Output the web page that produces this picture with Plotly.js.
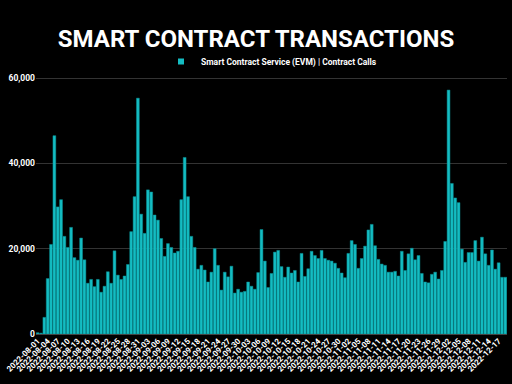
<!DOCTYPE html>
<html>
<head>
<meta charset="utf-8">
<script src="https://cdn.plot.ly/plotly-3.0.1.min.js"></script>
<style>
html,body{margin:0;padding:0;background:#000;}
#chart{width:512px;height:384px;}
</style>
</head>
<body>
<div id="chart"></div>
<script>
// Dates: daily from 2022-08-01 (141 days, to 2022-12-19)
const startDate = '2022-08-01';
const dayCount = 141;
const seriesName = 'Smart Contract Service (EVM) | Contract Calls';
const contractCalls = [
  300, 200,
  3900, 13000, 21000, 46500, 29800, 31500, 22900, 20300, 25000, 17900, 17300, 22500, 17400, 11900, 12800, 11100, 12800, 9800, 11200, 14600, 11900, 19500,
  13800, 12800, 13600, 16300, 24000, 32200, 55300, 28100, 23600, 33800, 33300, 27900, 26700, 22400, 18200, 21200, 20300, 19000, 19400, 31500, 41400, 32200, 22900,
  20300, 15200, 16100, 15000, 12200, 14500, 20000, 16100, 10300, 14500, 13400, 15900, 9600, 10500, 9800, 10000, 12200, 11200, 10500, 14400, 24500, 17100, 10900,
  14200, 19200, 19600, 15800, 13300, 15700, 14300, 14900, 12200, 18900, 13500, 15300, 19400, 18400, 17700, 19600, 17700, 17300, 17100, 16600, 15400, 14300, 13200,
  18900, 21900, 21000, 15400, 17700, 20600, 24400, 25700, 20700, 17500, 16400, 16100, 14500, 14500, 14700, 13600, 19400, 14900, 18800, 20100, 17400, 18400, 14200,
  12200, 12000, 14000, 14500, 12900, 14900, 21700, 57200, 35300, 31900, 30800, 19900, 16800, 19100, 19100, 21900, 17100, 22700, 18800, 16100, 19700, 15200, 16700, 13300, 13300
];
const yTicks = [0, 20000, 40000, 60000];
const yTickLabels = ['0', '20,000', '40,000', '60,000'];

const dates = [];
const d0 = new Date(startDate + 'T00:00:00Z');
for (let i = 0; i < dayCount; i++) {
  const d = new Date(d0.getTime() + i * 86400000);
  dates.push(d.toISOString().slice(0, 10));
}

const barColor = '#14bcc2';

const trace = {
  type: 'bar',
  x: dates,
  y: contractCalls,
  name: seriesName,
  marker: {color: barColor, line: {color: '#0b8e93', width: 0.5}},
  showlegend: false
};
// legend entry only (small square symbol like the reference)
const legendTrace = {
  type: 'scatter', mode: 'markers',
  x: [null], y: [null],
  name: '<b>' + seriesName + '</b>',
  marker: {symbol: 'square', size: 6, color: barColor},
  showlegend: true, hoverinfo: 'skip'
};

const layout = {
  width: 512, height: 384,
  paper_bgcolor: '#000', plot_bgcolor: '#000',
  margin: {l: 36, r: 5, t: 76, b: 50},
  bargap: 0.15,
  font: {family: 'Roboto, Arial, sans-serif', color: '#fff'},
  title: {
    text: '<b>SMART CONTRACT TRANSACTIONS</b>',
    font: {family: 'Roboto, Arial, sans-serif', size: 24, color: '#fff'},
    x: 0.5, xanchor: 'center', y: 0.9, yanchor: 'middle'
  },
  showlegend: true,
  legend: {
    orientation: 'h', x: 0.5, xanchor: 'center', y: 1.0, yanchor: 'bottom',
    font: {size: 8.5, color: '#fff', family: 'Roboto, Arial, sans-serif'},
    bgcolor: 'rgba(0,0,0,0)', itemwidth: 30
  },
  xaxis: {
    type: 'date',
    range: ['2022-07-31 12:00', '2022-12-19 12:00'],
    tick0: startDate, dtick: 3 * 86400000,
    tickformat: '%Y-%m-%d', tickangle: -45,
    tickfont: {size: 8, color: '#fff', weight: 'bold'},
    showgrid: false, zeroline: false,
    showline: false, ticks: ''
  },
  yaxis: {
    range: [0, 60500],
    tickvals: yTicks, ticktext: yTickLabels,
    tickfont: {size: 8.5, color: '#fff', weight: 'bold'},
    gridcolor: '#333', gridwidth: 1,
    zeroline: true, zerolinecolor: '#444',
    ticks: '', showline: false
  }
};

Plotly.newPlot('chart', [trace, legendTrace], layout, {displayModeBar: false, staticPlot: true});
</script>
</body>
</html>
